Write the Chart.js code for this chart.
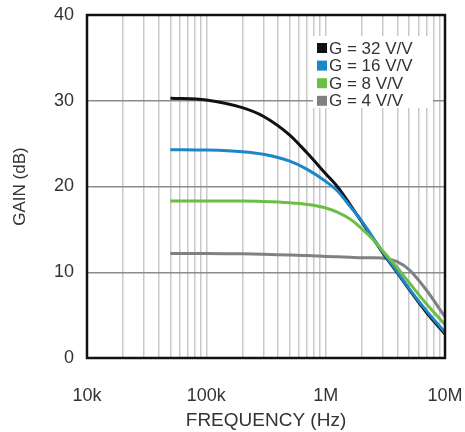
<!DOCTYPE html>
<html>
<head>
<meta charset="utf-8">
<script src="https://cdn.jsdelivr.net/npm/chart.js@4"></script>
<style>
  html, body { margin: 0; padding: 0; background: #fff; }
  canvas { display: block; }
</style>
</head>
<body>
<canvas id="myChart" width="465" height="432"></canvas>
<script>
// Frequency points (Hz) and gain (dB)
const freqHz = [50e3, 100e3, 200e3, 300e3, 500e3, 700e3, 1e6, 1.25e6, 1.6e6, 2e6, 2.5e6, 3e6, 4e6, 5e6, 7e6, 10e6];
const gain32 = [30.3, 30.1, 29.2, 28.2, 26.0, 23.9, 21.5, 20.0, 17.9, 15.9, 13.9, 12.3, 9.9, 8.0, 5.3, 2.8];
const gain16 = [24.3, 24.25, 24.05, 23.75, 22.95, 22.0, 20.6, 19.5, 17.7, 16.0, 14.0, 12.4, 10.0, 8.1, 5.5, 3.0];
const gain8  = [18.3, 18.3, 18.3, 18.25, 18.1, 17.9, 17.5, 17.0, 16.2, 15.1, 13.8, 12.5, 10.5, 8.8, 6.3, 3.9];
const gain4  = [12.2, 12.2, 12.15, 12.1, 12.0, 11.95, 11.85, 11.8, 11.75, 11.7, 11.7, 11.65, 11.2, 10.3, 7.9, 4.8];

const seriesLabels = ['G = 32 V/V', 'G = 16 V/V', 'G = 8 V/V', 'G = 4 V/V'];
const seriesColors = ['#111111', '#1b87c9', '#6cbf45', '#7f8285'];
const drawOrder = [2, 1, 0, 3]; // green on top, gray underneath
const freqTickLabels = { 1e4: '10k', 1e5: '100k', 1e6: '1M', 1e7: '10M' };
const gainTicks = [0, 10, 20, 30, 40];

const fontFamily = '"Liberation Sans", Arial, Helvetica, sans-serif';

function toPoints(ys) {
  return freqHz.map((f, i) => ({ x: f, y: ys[i] }));
}

// Legend box drawn inside the plot, top right
const insideLegend = {
  id: 'insideLegend',
  afterDatasetsDraw(chart) {
    const c = chart.ctx;
    c.save();
    c.fillStyle = '#fff';
    c.fillRect(313, 36, 120, 72);
    c.font = '17px ' + fontFamily;
    c.textBaseline = 'middle';
    seriesLabels.forEach((label, i) => {
      const y = 48 + i * 17.6;
      c.fillStyle = seriesColors[i];
      c.fillRect(317, y - 5, 10, 10);
      c.fillStyle = '#333';
      c.fillText(label, 329, y + 1);
    });
    c.restore();
  }
};

// Black frame round the plot area
const plotFrame = {
  id: 'plotFrame',
  afterDraw(chart) {
    const a = chart.chartArea;
    const c = chart.ctx;
    c.save();
    c.strokeStyle = '#111';
    c.lineWidth = 2.5;
    c.strokeRect(a.left, a.top, a.right - a.left, a.bottom - a.top);
    c.restore();
  }
};

const ctx = document.getElementById('myChart');

new Chart(ctx, {
  type: 'line',
  data: {
    datasets: [gain32, gain16, gain8, gain4].map((g, i) => ({
      label: seriesLabels[i],
      data: toPoints(g),
      borderColor: seriesColors[i],
      backgroundColor: seriesColors[i],
      borderWidth: 3,
      pointRadius: 0,
      order: drawOrder[i],
      cubicInterpolationMode: 'monotone',
      fill: false
    }))
  },
  options: {
    responsive: false,
    animation: false,
    layout: { padding: { top: 15, right: 20, left: 0, bottom: 0 } },
    plugins: {
      legend: { display: false },
      tooltip: { enabled: false }
    },
    scales: {
      x: {
        type: 'logarithmic',
        min: 1e4,
        max: 1e7,
        afterBuildTicks(scale) {
          const ticks = [];
          for (let d = 1e4; d < 1e7; d *= 10) {
            for (let k = 1; k < 10; k++) ticks.push({ value: k * d });
          }
          ticks.push({ value: 1e7 });
          scale.ticks = ticks;
        },
        afterFit(scale) {
          scale.height = 74;
          scale.paddingLeft = 0;
          scale.paddingRight = 0;
        },
        ticks: {
          autoSkip: false,
          maxRotation: 0,
          padding: 27,
          color: '#333',
          font: { family: fontFamily, size: 18 },
          callback: (v) => freqTickLabels[v] || ''
        },
        grid: { color: '#c9c9c9', lineWidth: 1.5, drawTicks: false },
        border: { display: false },
        title: {
          display: true,
          text: 'FREQUENCY (Hz)',
          color: '#333',
          font: { family: fontFamily, size: 19 },
          padding: { top: 7, bottom: 0 }
        }
      },
      y: {
        min: 0,
        max: 40,
        afterBuildTicks(scale) {
          scale.ticks = gainTicks.map((v) => ({ value: v }));
        },
        afterFit(scale) {
          scale.width = 87;
          scale.paddingTop = 0;
          scale.paddingBottom = 0;
        },
        ticks: {
          padding: 13,
          color: '#333',
          font: { family: fontFamily, size: 18 }
        },
        grid: { color: '#8c8c8c', lineWidth: 1.5, drawTicks: false },
        border: { display: false },
        title: {
          display: true,
          text: 'GAIN (dB)',
          color: '#333',
          font: { family: fontFamily, size: 17 },
          padding: { top: 10, bottom: 0 }
        }
      }
    }
  },
  plugins: [insideLegend, plotFrame]
});
</script>
</body>
</html>
